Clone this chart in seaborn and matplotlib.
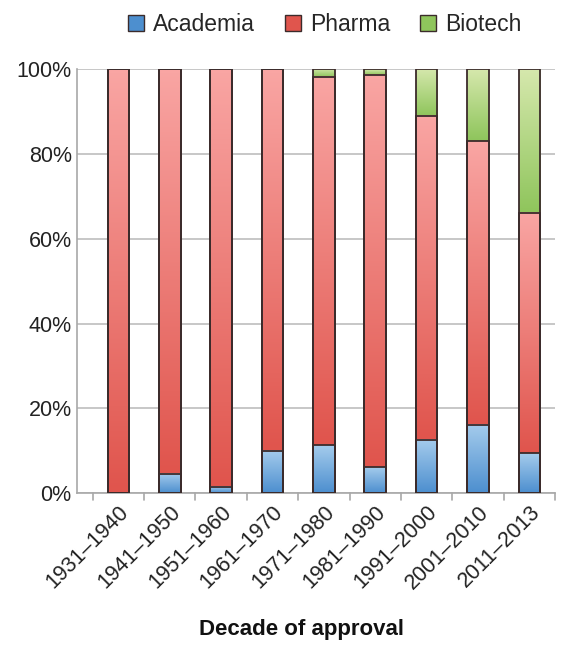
import matplotlib
matplotlib.use("Agg")
import matplotlib.pyplot as plt
import matplotlib.colors as mcolors
from matplotlib.patches import Patch
import numpy as np
import pandas as pd
import seaborn as sns

decades = ["1931\u20131940", "1941\u20131950", "1951\u20131960", "1961\u20131970",
           "1971\u20131980", "1981\u20131990", "1991\u20132000", "2001\u20132010",
           "2011\u20132013"]
academia = [0.0, 4.5, 1.5, 10.0, 11.3, 6.1, 12.5, 16.2, 9.4]
pharma = [100.0, 95.5, 98.5, 90.0, 86.8, 92.5, 76.4, 66.8, 56.6]
biotech = [0.0, 0.0, 0.0, 0.0, 1.9, 1.4, 11.1, 17.0, 34.0]
series_names = ["Academia", "Pharma", "Biotech"]
yticks = [0, 20, 40, 60, 80, 100]

grad = {
    "Academia": ("#a4cbec", "#4d8fcf"),
    "Pharma": ("#f9a5a3", "#e0554d"),
    "Biotech": ("#d6e8ad", "#8fc55c"),
}
edge = "#3b2b2b"

sns.set_theme(style="white")
plt.rcParams["font.family"] = ["Liberation Sans", "DejaVu Sans"]

df = pd.DataFrame({"decade": decades, "Academia": academia,
                   "Pharma": pharma, "Biotech": biotech})
df["c1"] = df["Academia"]
df["c2"] = df["Academia"] + df["Pharma"]
df["c3"] = df["c2"] + df["Biotech"]

fig = plt.figure(figsize=(5.64, 6.56), dpi=100)
ax = fig.add_axes([0.137, 0.248, 0.847, 0.647])

layers = [("c3", "Biotech", "c2"), ("c2", "Pharma", "c1"), ("c1", "Academia", None)]
for col, name, lower in layers:
    n_before = len(ax.patches)
    sns.barplot(data=df, x="decade", y=col, ax=ax, width=0.42,
                color="none", edgecolor=edge, linewidth=1.3, zorder=3)
    new = ax.patches[n_before:]
    tops = df[col].values
    bots = df[lower].values if lower else np.zeros(len(df))
    ctop, cbot = grad[name]
    cmap = mcolors.LinearSegmentedColormap.from_list(name, [cbot, ctop])
    g = np.linspace(0, 1, 64).reshape(-1, 1)
    for p, b, t in zip(new, bots, tops):
        p.set_facecolor("none")
        if t - b <= 0.01:
            continue
        x0 = p.get_x()
        x1 = x0 + p.get_width()
        ax.imshow(g, cmap=cmap, origin="lower", aspect="auto",
                  extent=[x0, x1, b, t], zorder=2, interpolation="bilinear")

ax.set_xlim(-0.8, 8.5)
ax.set_ylim(0, 100)
ax.set_yticks(yticks)
ax.set_yticklabels([f"{v}%" for v in yticks], fontsize=15.5, color="#222222")
ax.yaxis.grid(True, color="#bdbdbd", linewidth=1.2, zorder=0)
ax.set_axisbelow(True)
for s in ["top", "right"]:
    ax.spines[s].set_visible(False)
ax.spines["left"].set_color("#a8a8a8")
ax.spines["bottom"].set_color("#a8a8a8")
ax.spines["left"].set_linewidth(1.2)
ax.spines["bottom"].set_linewidth(1.2)
ax.tick_params(axis="y", length=0, pad=4)

ax.set_xticks(range(len(decades)))
ax.set_xticklabels(decades, rotation=45, ha="right", rotation_mode="anchor",
                   fontsize=15.5, color="#222222")
ax.tick_params(axis="x", length=0, pad=6)
for xb in np.arange(-0.5, len(decades), 1.0):
    ax.plot([xb, xb], [0, -1.6], color="#a8a8a8", lw=1.2, clip_on=False)

ax.set_xlabel("Decade of approval", fontsize=16, fontweight="bold",
              color="#111111")
ax.xaxis.set_label_coords(0.47, -0.295)
ax.set_ylabel("")

handles = [Patch(facecolor=grad[n][1], edgecolor=edge, linewidth=1.0, label=n)
           for n in series_names]
fig.legend(handles=handles, loc="upper center", bbox_to_anchor=(0.576, 1.012),
           ncol=3, frameon=False, fontsize=16.5, handlelength=0.7,
           handleheight=0.7, handletextpad=0.4, columnspacing=1.3)

fig.savefig("out.png", dpi=100, facecolor="white")
